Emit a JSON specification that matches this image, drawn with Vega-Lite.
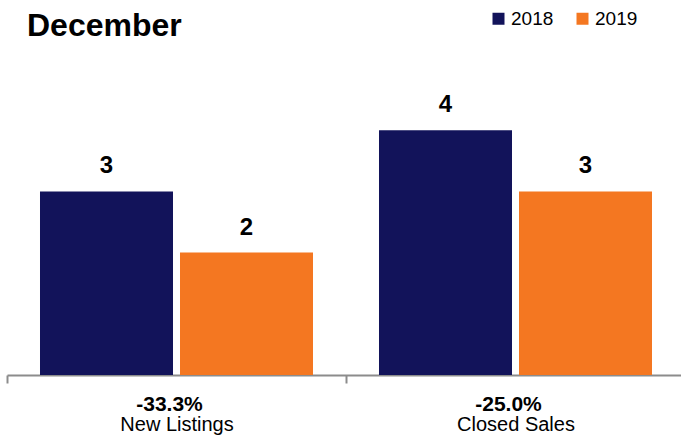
{
  "$schema": "https://vega.github.io/schema/vega-lite/v6.json",
  "width": 678,
  "height": 306,
  "autosize": "none",
  "padding": {"left": 7, "top": 69, "right": 0, "bottom": 69},
  "background": "white",
  "config": {
    "view": {"stroke": null},
    "font": "Liberation Sans, Arial, Helvetica, sans-serif"
  },
  "title": {
    "text": "December",
    "anchor": "start",
    "frame": "group",
    "orient": "top",
    "baseline": "alphabetic",
    "offset": -59,
    "dx": 20,
    "font": "Liberation Sans, Arial, sans-serif",
    "fontSize": 32,
    "fontWeight": "bold",
    "color": "#000000"
  },
  "data": {
    "values": [
      {"category": "New Listings", "pct": "-33.3%", "year": "2018", "value": 3},
      {"category": "New Listings", "pct": "-33.3%", "year": "2019", "value": 2},
      {"category": "Closed Sales", "pct": "-25.0%", "year": "2018", "value": 4},
      {"category": "Closed Sales", "pct": "-25.0%", "year": "2019", "value": 3}
    ]
  },
  "layer": [
    {
      "mark": {"type": "bar"},
      "encoding": {
        "x": {
          "field": "category",
          "type": "nominal",
          "sort": null,
          "scale": {"paddingInner": 0, "paddingOuter": 0},
          "axis": {
            "orient": "bottom",
            "title": null,
            "domainColor": "#8c8c8c",
            "domainWidth": 2,
            "tickColor": "#8c8c8c",
            "tickWidth": 2,
            "tickSize": 8,
            "tickBand": "extent",
            "labelAngle": 0,
            "labelFontSize": 20,
            "labelColor": "#000000",
            "labelBaseline": "alphabetic",
            "labelPadding": 47,
            "grid": false
          }
        },
        "xOffset": {
          "field": "year",
          "type": "nominal",
          "scale": {"paddingInner": 0.05, "paddingOuter": 0.2357}
        },
        "y": {
          "field": "value",
          "type": "quantitative",
          "scale": {"domain": [0, 5], "nice": false},
          "axis": null
        },
        "color": {
          "field": "year",
          "type": "nominal",
          "scale": {"domain": ["2018", "2019"], "range": ["#12135a", "#f47721"]},
          "legend": {
            "title": null,
            "orient": "none",
            "legendX": 482,
            "legendY": -60,
            "direction": "horizontal",
            "symbolType": "square",
            "symbolSize": 144,
            "symbolStrokeWidth": 0,
            "labelFontSize": 19,
            "labelColor": "#000000",
            "labelOffset": 3,
            "columnPadding": 19
          }
        }
      }
    },
    {
      "mark": {"type": "text", "fontSize": 24, "fontWeight": "bold", "baseline": "alphabetic", "dy": -18, "color": "#000000"},
      "encoding": {
        "x": {
          "field": "pct",
          "type": "nominal",
          "sort": null,
          "scale": {"paddingInner": 0, "paddingOuter": 0},
          "axis": {
            "orient": "bottom",
            "title": null,
            "domain": false,
            "ticks": false,
            "tickSize": 0,
            "labelAngle": 0,
            "labelFontSize": 21,
            "labelFontWeight": "bold",
            "labelColor": "#000000",
            "labelBaseline": "alphabetic",
            "labelPadding": 35,
            "labelOffset": -7,
            "grid": false
          }
        },
        "xOffset": {
          "field": "year",
          "type": "nominal",
          "scale": {"paddingInner": 0.05, "paddingOuter": 0.2357}
        },
        "y": {
          "field": "value",
          "type": "quantitative",
          "scale": {"domain": [0, 5], "nice": false},
          "axis": null
        },
        "text": {"field": "value", "type": "quantitative"}
      }
    }
  ],
  "resolve": {"scale": {"x": "independent"}, "axis": {"x": "independent"}}
}
